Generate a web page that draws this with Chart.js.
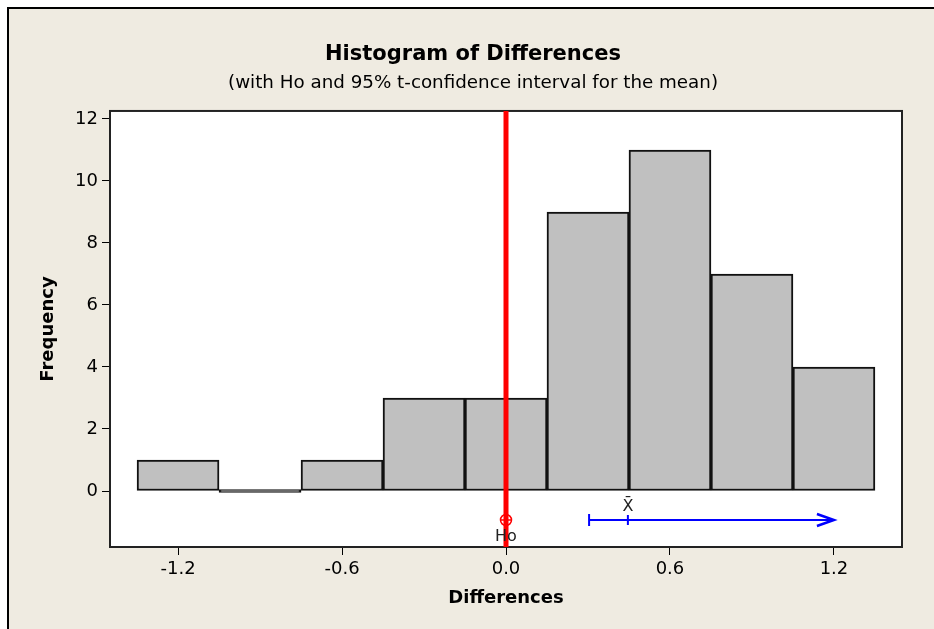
<!DOCTYPE html>
<html lang="en">
<head>
    <meta charset="UTF-8">
    <title>Histogram of Differences</title>
    <script src="https://cdn.jsdelivr.net/npm/chart.js"></script>
    <style>
        body {
            margin: 0;
            background-color: white;
        }

        .frame {
            position: absolute;
            left: 7px;
            top: 7px;
            width: 927px;
            height: 622px;
            border-top: 2px solid #000;
            border-left: 2px solid #000;
            background-color: #efebe1;
        }

        #histChart {
            position: absolute;
            left: 0;
            top: 0;
        }
    </style>
</head>
<body>
    <div class="frame"></div>
    <canvas id="histChart" width="934" height="629"></canvas>

    <script>
        const binCenters = [-1.2, -0.9, -0.6, -0.3, 0.0, 0.3, 0.6, 0.9, 1.2];
        const frequencies = [1, 0, 1, 3, 3, 9, 11, 7, 4];

        const xTickValues = [-1.2, -0.6, 0.0, 0.6, 1.2];
        const xTickLabels = ['-1.2', '-0.6', '0.0', '0.6', '1.2'];
        const yTickValues = [0, 2, 4, 6, 8, 10, 12];
        const yTickLabels = ['0', '2', '4', '6', '8', '10', '12'];

        const xLimits = [-1.449, 1.449];
        const yLimits = [-1.806, 12.258];

        // Ho and the t-interval for the mean
        const hoValue = 0.0;
        const ciLower = 0.304;
        const sampleMean = 0.446;
        const ciArrowEnd = 1.2;
        const ciRow = -0.935;

        const plotFrame = {
            id: 'plotFrame',
            beforeDraw(chart) {
                const a = chart.chartArea;
                const ctx = chart.ctx;
                ctx.save();
                ctx.fillStyle = '#ffffff';
                ctx.fillRect(a.left, a.top, a.right - a.left, a.bottom - a.top);
                ctx.restore();
            },
            beforeDatasetsDraw(chart) {
                const a = chart.chartArea;
                const ctx = chart.ctx;
                ctx.save();
                ctx.strokeStyle = '#222';
                ctx.lineWidth = 2;
                ctx.strokeRect(a.left, a.top, a.right - a.left, a.bottom - a.top);
                ctx.restore();
            },
            afterDatasetsDraw(chart) {
                const x = chart.scales.x;
                const y = chart.scales.y;
                const ctx = chart.ctx;
                const rowY = y.getPixelForValue(ciRow);

                ctx.save();
                // arrow head at the open end of the interval
                const tip = x.getPixelForValue(ciArrowEnd);
                ctx.strokeStyle = '#0000ff';
                ctx.lineWidth = 2.5;
                ctx.beginPath();
                ctx.moveTo(tip - 17, rowY - 6);
                ctx.lineTo(tip, rowY);
                ctx.lineTo(tip - 17, rowY + 6);
                ctx.stroke();

                ctx.fillStyle = '#222';
                ctx.font = '16px "DejaVu Sans"';
                ctx.textAlign = 'center';
                ctx.textBaseline = 'middle';
                ctx.fillText('Ho', x.getPixelForValue(hoValue), rowY + 17);
                ctx.fillText('X\u0304', x.getPixelForValue(sampleMean), rowY - 13);
                ctx.restore();
            }
        };

        const ctx = document.getElementById('histChart').getContext('2d');

        new Chart(ctx, {
            type: 'bar',
            data: {
                datasets: [
                    {
                        label: 'Frequency',
                        data: binCenters.map((c, i) => ({ x: c, y: frequencies[i] })),
                        backgroundColor: '#c0c0c0',
                        borderColor: '#111',
                        borderWidth: 2,
                        borderSkipped: false,
                        minBarLength: 3,
                        barPercentage: 1,
                        categoryPercentage: 1,
                        order: 6
                    },
                    {
                        type: 'line',
                        label: 'Ho line',
                        data: [{ x: hoValue, y: yLimits[0] }, { x: hoValue, y: yLimits[1] }],
                        borderColor: '#ff0000',
                        borderWidth: 5,
                        pointRadius: 0,
                        clip: false,
                        order: 5
                    },
                    {
                        type: 'line',
                        label: 'CI',
                        data: [{ x: ciLower, y: ciRow }, { x: ciArrowEnd, y: ciRow }],
                        borderColor: '#0000ff',
                        borderWidth: 2,
                        pointStyle: 'line',
                        pointRotation: 90,
                        pointRadius: [6, 0],
                        pointBorderColor: '#0000ff',
                        pointBorderWidth: 2,
                        order: 4
                    },
                    {
                        type: 'scatter',
                        label: 'Mean',
                        data: [{ x: sampleMean, y: ciRow }],
                        pointStyle: 'line',
                        pointRotation: 90,
                        pointRadius: 5,
                        borderColor: '#0000ff',
                        borderWidth: 2,
                        order: 3
                    },
                    {
                        type: 'scatter',
                        label: 'Ho circle',
                        data: [{ x: hoValue, y: ciRow }],
                        pointStyle: 'circle',
                        pointRadius: 5.5,
                        backgroundColor: 'rgba(255,255,255,0)',
                        borderColor: '#ff0000',
                        borderWidth: 1.5,
                        order: 2
                    },
                    {
                        type: 'scatter',
                        label: 'Ho cross',
                        data: [{ x: hoValue, y: ciRow }],
                        pointStyle: 'cross',
                        pointRadius: 5.5,
                        borderColor: '#ff0000',
                        borderWidth: 1.5,
                        order: 1
                    }
                ]
            },
            options: {
                responsive: false,
                animation: false,
                devicePixelRatio: 1,
                layout: {
                    padding: { left: 12, right: 0, top: 0, bottom: 0 }
                },
                plugins: {
                    legend: { display: false },
                    tooltip: { enabled: false },
                    title: {
                        display: true,
                        text: 'Histogram of Differences',
                        color: '#000',
                        font: { family: 'DejaVu Sans', size: 21, weight: 'bold' },
                        padding: { top: 42.4, bottom: 0 }
                    },
                    subtitle: {
                        display: true,
                        text: '(with Ho and 95% t-confidence interval for the mean)',
                        color: '#000',
                        font: { family: 'DejaVu Sans', size: 18.3 },
                        padding: { top: 4.4, bottom: 17 }
                    }
                },
                scales: {
                    x: {
                        type: 'linear',
                        min: xLimits[0],
                        max: xLimits[1],
                        offset: false,
                        afterFit: (scale) => { scale.height = 82; },
                        afterBuildTicks: (scale) => {
                            scale.ticks = xTickValues.map(v => ({ value: v }));
                        },
                        ticks: {
                            color: '#000',
                            padding: 4,
                            font: { family: 'DejaVu Sans', size: 18 },
                            callback: (value, index) => xTickLabels[index]
                        },
                        grid: {
                            display: true,
                            offset: false,
                            drawOnChartArea: false,
                            drawTicks: true,
                            tickLength: 8,
                            color: '#000'
                        },
                        border: { display: false },
                        title: {
                            display: true,
                            text: 'Differences',
                            color: '#000',
                            font: { family: 'DejaVu Sans', size: 18, weight: 'bold' },
                            padding: { top: 0, bottom: 20.2 }
                        }
                    },
                    y: {
                        type: 'linear',
                        min: yLimits[0],
                        max: yLimits[1],
                        afterFit: (scale) => { scale.width = 98; },
                        afterBuildTicks: (scale) => {
                            scale.ticks = yTickValues.map(v => ({ value: v }));
                        },
                        ticks: {
                            color: '#000',
                            padding: 4,
                            font: { family: 'DejaVu Sans', size: 18 },
                            callback: (value, index) => yTickLabels[index]
                        },
                        grid: {
                            display: true,
                            drawOnChartArea: false,
                            drawTicks: true,
                            tickLength: 8,
                            color: '#000'
                        },
                        border: { display: false },
                        title: {
                            display: true,
                            text: 'Frequency',
                            color: '#000',
                            font: { family: 'DejaVu Sans', size: 18, weight: 'bold' },
                            padding: { top: 25.2, bottom: 0 }
                        }
                    },
                    // empty strip on the right of the plot frame
                    yRight: {
                        type: 'linear',
                        position: 'right',
                        display: true,
                        afterFit: (scale) => { scale.width = 32; },
                        ticks: { display: false },
                        grid: { display: false },
                        border: { display: false }
                    }
                }
            },
            plugins: [plotFrame]
        });
    </script>
</body>
</html>
